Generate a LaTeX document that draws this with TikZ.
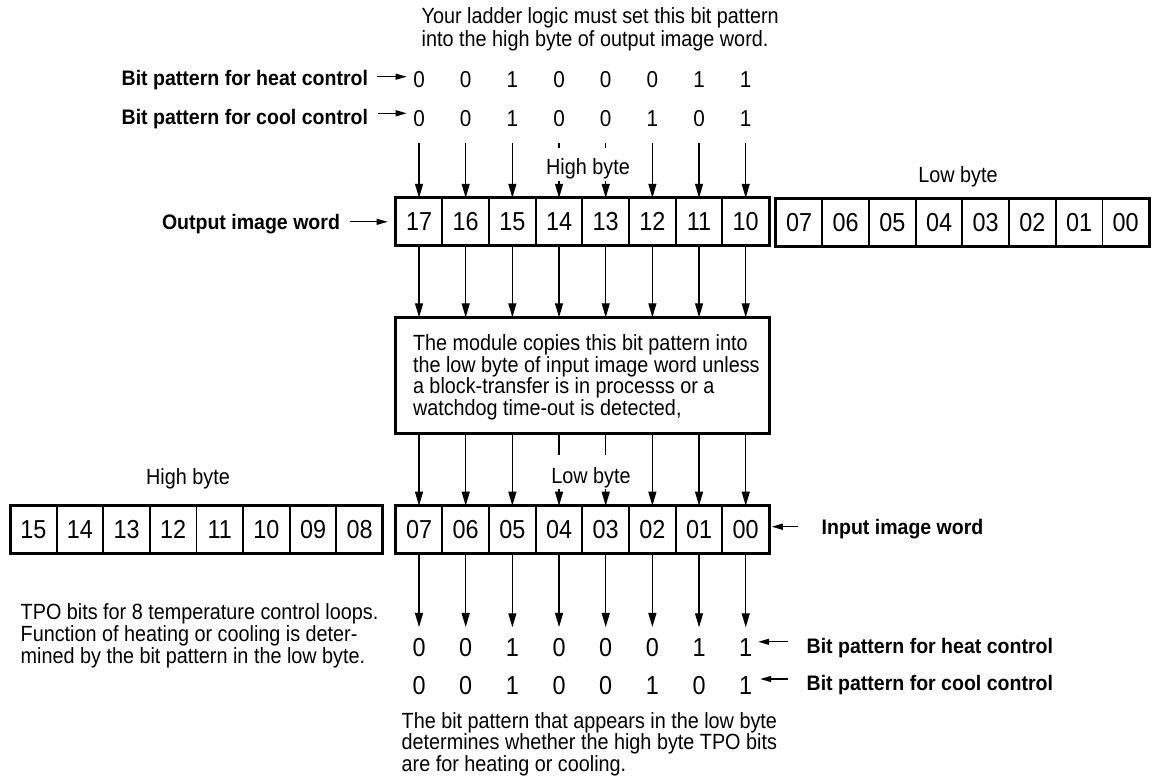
\documentclass[tikz,border=0pt]{standalone}
\usepackage{fontspec}
\setmainfont{Liberation Sans}[FakeStretch=0.9]
\newfontfamily\lblfont{Liberation Sans}[FakeStretch=0.93]
\usetikzlibrary{arrows.meta,calc}
\begin{document}
\begin{tikzpicture}[x=1pt,y=-1pt,
  every node/.style={inner sep=0pt, outer sep=0pt},
  txt/.style={font=\fontsize{22}{22}\selectfont},
  lbl/.style={font=\lblfont\bfseries\fontsize{21}{21}\selectfont},
  tbit/.style={font=\fontsize{23}{23}\selectfont},
  bbit/.style={font=\fontsize{26}{26}\selectfont},
  cell/.style={draw, line width=1.8pt, minimum width=46.67pt, minimum height=48pt, font=\fontsize{26}{26}\selectfont},
  frame/.style={draw, line width=3pt},
  arr/.style={line width=1.2pt, -{Triangle[length=14pt,width=8pt]}},
  stub/.style={line width=1.2pt},
  sarr/.style={line width=1.2pt, -{Triangle[length=11pt,width=6pt]}},
]
\useasboundingbox (0,0) rectangle (1154,783);

% ---- output image word
\foreach \n [count=\i from 0] in {17,16,15,14,13,12,11,10}
  \node[cell] (oh\i) at ({395.7+46.67*(\i+0.5)},221.8) {\n};
\draw[frame] (oh0.north west) rectangle (oh7.south east);
\foreach \n [count=\i from 0] in {07,06,05,04,03,02,01,00}
  \node[cell] (ol\i) at ({775.7+46.67*(\i+0.5)},222.2) {\n};
\draw[frame] (ol0.north west) rectangle (ol7.south east);

% ---- input image word
\foreach \n [count=\i from 0] in {15,14,13,12,11,10,09,08}
  \node[cell, minimum width=46.62pt] (ih\i) at ({10+46.62*(\i+0.5)},529.5) {\n};
\draw[frame] (ih0.north west) rectangle (ih7.south east);
\foreach \n [count=\i from 0] in {07,06,05,04,03,02,01,00}
  \node[cell] (il\i) at ({395.7+46.67*(\i+0.5)},529.7) {\n};
\draw[frame] (il0.north west) rectangle (il7.south east);

% ---- bit patterns
\foreach \h/\c [count=\i from 0] in {0/0,0/0,1/1,0/0,0/0,0/1,1/0,1/1} {
  \node[tbit] (th\i) at ({395.7+46.67*(\i+0.5)},79.5) {\h};
  \node[tbit] (tc\i) at ({395.7+46.67*(\i+0.5)},118.3) {\c};
  \node[bbit] (bh\i) at ({395.7+46.67*(\i+0.5)},647.8) {\h};
  \node[bbit] (bc\i) at ({395.7+46.67*(\i+0.5)},686) {\c};
}

% ---- texts
\node[txt, anchor=north west, align=left, font=\fontsize{22}{23.4}\selectfont] (top) at (421.7,7.3)
  {Your ladder logic must set this bit pattern\\into the high byte of output image word.};
\node[lbl, anchor=base east] (hl) at (368,86) {Bit pattern for heat control};
\node[lbl, anchor=base east] (cl) at (368,125) {Bit pattern for cool control};
\node[lbl, anchor=base west] (ow) at (162,229.5) {Output image word};
\node[txt, anchor=base] (thb) at (588,175) {High byte};
\node[txt, anchor=base] (tlb) at (958,182.3) {Low byte};
\node[txt, anchor=base] (ihb) at (188,484.3) {High byte};
\node[txt, anchor=base] (ilb) at (591,483.3) {Low byte};
\node[lbl, anchor=base west] (iw) at (821.7,534) {Input image word};
\node[lbl, anchor=base west] (bhl) at (806.7,653.3) {Bit pattern for heat control};
\node[lbl, anchor=base west] (bcl) at (806.7,690.7) {Bit pattern for cool control};
\node[txt, anchor=north west, align=left, font=\fontsize{22}{21.7}\selectfont] (tpo) at (20.7,604)
  {TPO bits for 8 temperature control loops.\\Function of heating or cooling is deter-\\mined by the bit pattern in the low byte.};
\node[txt, anchor=north west, align=left, font=\fontsize{22}{19}\selectfont] (note) at (401.7,712.3)
  {The bit pattern that appears in the low byte\\determines whether the high byte TPO bits\\are for heating or cooling.};

% ---- middle box
\node[draw, line width=3pt, minimum width=374pt, minimum height=116pt] (mid) at (582,375.3) {};
\node[txt, anchor=north west, align=left, font=\fontsize{22}{20.3}\selectfont] (midtxt) at (413,335)
  {The module copies this bit pattern into\\the low byte of input image word unless\\a block-transfer is in processs or a\\watchdog time-out is detected,};

% ---- arrows: bit pattern -> output word
\foreach \i in {0,1,2,5,6,7}
  \draw[arr] ($(tc\i.south)+(0,16.6)$) -- (oh\i.north);
\foreach \i in {3,4} {
  \draw[stub] ($(tc\i.south)+(0,16.6)$) -- ++(0,5);
  \draw[arr] ($(oh\i.north)+(0,-17)$) -- (oh\i.north);
}
% output word -> module box
\foreach \i in {0,...,7}
  \draw[arr] (oh\i.south) -- (oh\i.south |- mid.north);
% module box -> input word
\foreach \i in {0,1,2,5,6,7}
  \draw[arr] (mid.south -| il\i.north) -- (il\i.north);
\foreach \i in {3,4} {
  \draw[stub] (mid.south -| il\i.north) -- ++(0,22);
  \draw[arr] ($(il\i.north)+(0,-17)$) -- (il\i.north);
}
% input word -> bit pattern
\foreach \i in {0,...,7}
  \draw[arr] (il\i.south) -- ($(bh\i.north)+(0,-11.6)$);

% ---- label pointers
\draw[sarr] ($(hl.east |- th0.west)+(8.7,-2.8)$) -- ($(th0.west)+(-6.6,-2.8)$);
\draw[sarr] ($(cl.east |- tc0.west)+(10,-5)$) -- ($(tc0.west)+(-6.6,-5)$);
\draw[sarr] ($(ow.east |- oh0.west)+(10,0)$) -- ($(oh0.west)+(-8,0)$);
\draw[sarr] ($(iw.west |- il7.east)+(-23.4,-3)$) -- ($(il7.east)+(2.7,-3)$);
\draw[sarr] ($(bhl.west |- bh7.east)+(-18.7,-6)$) -- ($(bh7.east)+(6,-6)$);
\draw[sarr] ($(bcl.west |- bc7.east)+(-18.7,-7)$) -- ($(bc7.east)+(8,-7)$);
\end{tikzpicture}
\end{document}
